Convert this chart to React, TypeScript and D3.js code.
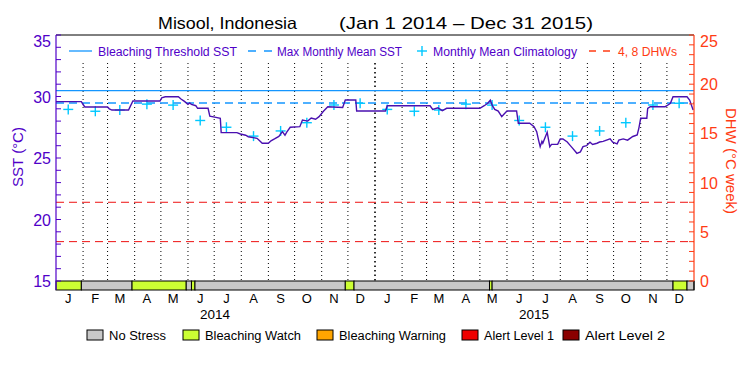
import React from "react";
import * as d3 from "d3";

// ---------- data ----------
const monthLabels = ["J", "F", "M", "A", "M", "J", "J", "A", "S", "O", "N", "D"];
const years = [2014, 2015];
const climatology = [28.95, 28.8, 28.9, 29.38, 29.3, 28.05, 27.5, 26.78, 27.2, 27.87, 29.31, 29.45];
const maxMonthlyMean = 29.47;
const bleachingThreshold = 30.47;
const dhwLevels = [4, 8];
const sstTicks = [15, 20, 25, 30, 35];
const dhwTicks = [0, 5, 10, 15, 20, 25];

// SST series: day of record (from Jan 1 2014) and value (°C)
const sstDay = [0, 29, 31, 33, 59, 61, 64, 83, 85, 88, 119, 121, 125, 140, 143, 147, 151, 153, 155, 160, 162, 174, 176, 183, 188, 189, 207, 211, 217, 220, 230, 233, 236, 243, 246, 250, 255, 259, 262, 264, 268, 279, 282, 288, 292, 297, 301, 306, 311, 328, 331, 343, 344, 377, 379, 428, 431, 437, 442, 447, 485, 490, 494, 497, 499, 502, 506, 510, 513, 516, 527, 529, 542, 547, 550, 552, 554, 556, 557, 562, 565, 567, 574, 577, 580, 585, 588, 591, 596, 600, 603, 607, 611, 614, 619, 622, 626, 634, 637, 642, 644, 649, 654, 660, 665, 667, 669, 676, 677, 680, 697, 699, 703, 706, 722, 725, 729];
const sstValue = [29.58, 29.58, 29.35, 29.15, 29.15, 29.0, 28.9, 28.9, 29.2, 29.63, 29.63, 29.9, 29.98, 29.98, 29.8, 29.6, 29.37, 29.48, 29.35, 29.25, 29.04, 29.04, 28.4, 28.3, 28.23, 27.06, 27.06, 26.95, 26.85, 26.73, 26.6, 26.4, 26.2, 26.2, 26.4, 26.55, 26.75, 27.14, 26.85, 27.1, 27.5, 27.55, 28.09, 28.0, 28.25, 28.15, 28.36, 28.8, 29.17, 29.1, 29.71, 29.71, 28.82, 28.82, 29.25, 29.25, 28.95, 29.08, 28.85, 29.04, 29.04, 29.25, 29.45, 29.71, 29.3, 28.95, 28.82, 28.36, 28.6, 28.82, 28.82, 27.82, 27.82, 27.55, 27.14, 26.5, 25.92, 26.35, 26.2, 27.1, 25.92, 26.11, 26.11, 26.55, 26.55, 26.3, 26.05, 25.8, 25.38, 25.5, 25.92, 26.0, 26.28, 26.1, 26.2, 26.3, 26.35, 26.55, 26.28, 26.15, 26.45, 26.55, 26.45, 26.75, 26.87, 27.45, 28.23, 28.23, 29.04, 29.17, 29.17, 29.25, 29.45, 29.98, 29.98, 29.71, 28.9];

// Bleaching alert status bar
const stressStartDay = [0, 29, 87, 149, 155, 159, 331, 341, 496, 499, 706, 722];
const stressEndDay = [29, 87, 149, 155, 159, 331, 341, 496, 499, 706, 722, 730];
const stressLevel = ["watch", "none", "watch", "none", "watch", "none", "watch", "none", "watch", "none", "watch", "none"];

const stressNames = ["No Stress", "Bleaching Watch", "Bleaching Warning", "Alert Level 1", "Alert Level 2"];
const stressKeys = ["none", "watch", "warning", "alert1", "alert2"];
const stressColors = ["#c8c8c8", "#ccff33", "#ffa500", "#ee0000", "#8b0000"];

// ---------- styles ----------
const FONT = "'Liberation Sans', Arial, sans-serif";
const PURPLE = "#5000c8";
const LINE_PURPLE = "#4a10b0";
const ORANGE = "#ff3c14";
const BLUE = "#1496ff";
const CYAN = "#00c8ff";

export default function App() {
  const start = new Date(2014, 0, 1);
  const end = new Date(2016, 0, 1);
  const left = 56, right = 694, top = 35, plotBottom = 281, barBottom = 290;

  const x = d3.scaleTime().domain([start, end]).range([left, right]);
  const ySST = d3.scaleLinear().domain([15, 35]).range([plotBottom, top]);
  const yDHW = d3.scaleLinear().domain([0, 25]).range([plotBottom, top]);
  const dayDate = (d: number) => d3.timeDay.offset(start, d);
  const xd = (d: number) => x(dayDate(d));

  const sstPoints: [number, number][] = sstDay.map((d, i) => [d, sstValue[i]]);
  const line = d3
    .line<[number, number]>()
    .x((p) => xd(p[0]))
    .y((p) => ySST(p[1]));

  const monthStarts = d3.timeMonth.range(start, end);
  const climPoints = years.flatMap((yr) =>
    climatology.map((v, m) => ({ date: new Date(yr, m, 15), v }))
  );

  const sstMinor = d3.range(15, 36, 1);
  const dhwMinor = d3.range(0, 26, 1);

  const colorOf = (k: string) => stressColors[stressKeys.indexOf(k)];

  // legend layout
  const topLegendY = 51;
  const botLegendY = 335;
  const botLegendX = [87, 183, 317, 462, 563];
  const botLegendW = [57, 96, 107, 70, 80];

  return (
    <svg
      width={750}
      height={375}
      style={{ position: "absolute", left: 0, top: 0, background: "#fff" }}
      fontFamily={FONT}
    >
      <rect x={0} y={0} width={750} height={375} fill="#fff" />
      {/* title */}
      <text x={158} y={29} fontSize={16.5} fill="#000" textLength={139} lengthAdjust="spacingAndGlyphs">
        Misool, Indonesia
      </text>
      <text x={339} y={29} fontSize={16.5} fill="#000" textLength={254} lengthAdjust="spacingAndGlyphs">
        (Jan 1 2014 – Dec 31 2015)
      </text>

      {/* month dotted separators */}
      {monthStarts.slice(1).map((d, i) => {
        const isYear = d.getMonth() === 0;
        return (
          <line
            key={"g" + i}
            x1={x(d)}
            x2={x(d)}
            y1={63}
            y2={plotBottom}
            stroke="#000"
            strokeWidth={isYear ? 1.6 : 1}
            strokeDasharray={isYear ? "1.5,3" : "1,3"}
          />
        );
      })}

      {/* DHW reference lines */}
      {dhwLevels.map((v) => (
        <line
          key={"dhw" + v}
          x1={left}
          x2={right}
          y1={yDHW(v)}
          y2={yDHW(v)}
          stroke="#ee1111"
          strokeWidth={1}
          strokeDasharray="8,5"
        />
      ))}

      {/* threshold and MMM */}
      <line x1={left} x2={right} y1={ySST(bleachingThreshold)} y2={ySST(bleachingThreshold)} stroke={BLUE} strokeWidth={1.3} />
      <line
        x1={left}
        x2={right}
        y1={ySST(maxMonthlyMean)}
        y2={ySST(maxMonthlyMean)}
        stroke={BLUE}
        strokeWidth={1.3}
        strokeDasharray="8,5"
      />

      {/* climatology crosses */}
      {climPoints.map((p, i) => {
        const cx = x(p.date);
        const cy = ySST(p.v);
        return (
          <g key={"c" + i} stroke={CYAN} strokeWidth={1.4}>
            <line x1={cx - 5} x2={cx + 5} y1={cy} y2={cy} />
            <line x1={cx} x2={cx} y1={cy - 5} y2={cy + 5} />
          </g>
        );
      })}

      {/* SST line */}
      <path d={line(sstPoints) || ""} fill="none" stroke={LINE_PURPLE} strokeWidth={1.4} />

      {/* stress bar */}
      {stressStartDay.map((s, i) => (
        <rect
          key={"s" + i}
          x={xd(s)}
          y={plotBottom}
          width={xd(stressEndDay[i]) - xd(s)}
          height={barBottom - plotBottom}
          fill={colorOf(stressLevel[i])}
          stroke="#000"
          strokeWidth={1}
        />
      ))}

      {/* frame */}
      <line x1={left} x2={right} y1={top} y2={top} stroke="#000" strokeWidth={1} />
      <line x1={left} x2={left} y1={top} y2={barBottom} stroke={PURPLE} strokeWidth={1.2} />
      <line x1={right} x2={right} y1={top} y2={plotBottom} stroke={ORANGE} strokeWidth={1.2} />
      <line x1={right} x2={right} y1={plotBottom} y2={barBottom} stroke="#000" strokeWidth={1} />

      {/* left axis ticks */}
      {sstMinor.map((v) => (
        <line key={"lt" + v} x1={left} x2={left + 5} y1={ySST(v)} y2={ySST(v)} stroke={PURPLE} strokeWidth={1} />
      ))}
      {sstTicks.map((v) => (
        <text
          key={"ll" + v}
          x={51}
          y={Math.max(ySST(v), 41) + 6}
          fontSize={16}
          fill={PURPLE}
          textAnchor="end"
        >
          {v}
        </text>
      ))}
      <text
        transform={`translate(23,157) rotate(-90)`}
        fontSize={15}
        fill={PURPLE}
        textAnchor="middle"
      >
        SST (°C)
      </text>

      {/* right axis ticks */}
      {dhwMinor.map((v) => (
        <line key={"rt" + v} x1={right - 5} x2={right} y1={yDHW(v)} y2={yDHW(v)} stroke={ORANGE} strokeWidth={1} />
      ))}
      {dhwTicks.map((v) => (
        <text key={"rl" + v} x={700} y={Math.max(yDHW(v), 41) + 6} fontSize={16} fill={ORANGE} textAnchor="start">
          {v}
        </text>
      ))}
      <text
        transform={`translate(726,161) rotate(90)`}
        fontSize={15}
        fill={ORANGE}
        textAnchor="middle"
      >
        DHW (°C week)
      </text>

      {/* month labels */}
      {monthStarts.map((d, i) => {
        const mid = d3.timeDay.offset(d, 14);
        return (
          <text key={"m" + i} x={x(mid)} y={303} fontSize={13} fill="#000" textAnchor="middle">
            {monthLabels[d.getMonth()]}
          </text>
        );
      })}
      {years.map((yr) => (
        <text
          key={"y" + yr}
          x={x(new Date(yr, 6, 2))}
          y={319}
          fontSize={13.5}
          fill="#000"
          textAnchor="middle"
        >
          {yr}
        </text>
      ))}

      {/* top legend */}
      <g fontSize={12.5}>
        <line x1={69} x2={92} y1={topLegendY} y2={topLegendY} stroke={BLUE} strokeWidth={1.3} />
        <text x={98} y={topLegendY + 4.5} fill={PURPLE} textLength={139} lengthAdjust="spacingAndGlyphs">
          Bleaching Threshold SST
        </text>
        <line x1={248} x2={272} y1={topLegendY} y2={topLegendY} stroke={BLUE} strokeWidth={1.3} strokeDasharray="8,8" />
        <text x={277} y={topLegendY + 4.5} fill={PURPLE} textLength={125} lengthAdjust="spacingAndGlyphs">
          Max Monthly Mean SST
        </text>
        <g stroke={CYAN} strokeWidth={1.4}>
          <line x1={417} x2={427} y1={topLegendY} y2={topLegendY} />
          <line x1={422} x2={422} y1={topLegendY - 5} y2={topLegendY + 5} />
        </g>
        <text x={433} y={topLegendY + 4.5} fill={PURPLE} textLength={144} lengthAdjust="spacingAndGlyphs">
          Monthly Mean Climatology
        </text>
        <line x1={589} x2={610} y1={topLegendY} y2={topLegendY} stroke={ORANGE} strokeWidth={1.3} strokeDasharray="7,7" />
        <text x={618} y={topLegendY + 4.5} fill={ORANGE} textLength={59} lengthAdjust="spacingAndGlyphs">
          4, 8 DHWs
        </text>
      </g>

      {/* bottom legend */}
      <g fontSize={12}>
        {stressNames.map((name, i) => (
          <g key={"bl" + i}>
            <rect x={botLegendX[i]} y={botLegendY - 5} width={16} height={10} fill={stressColors[i]} stroke="#000" strokeWidth={1} />
            <text
              x={botLegendX[i] + 22}
              y={botLegendY + 5}
              fill="#000"
              textLength={botLegendW[i]}
              lengthAdjust="spacingAndGlyphs"
            >
              {name}
            </text>
          </g>
        ))}
      </g>
    </svg>
  );
}
